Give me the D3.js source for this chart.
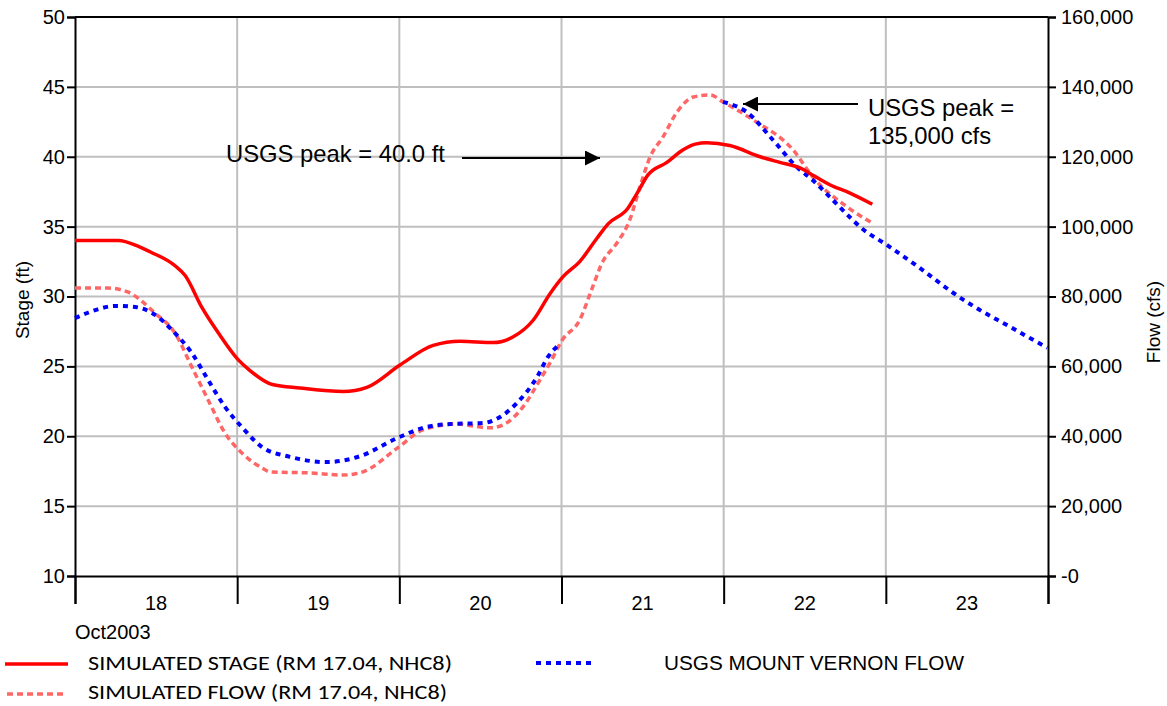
<!DOCTYPE html>
<html>
<head>
<meta charset="utf-8">
<script src="https://cdn.jsdelivr.net/npm/d3@7"></script>
<style>
  html, body { margin: 0; padding: 0; background: #fff; }
  svg { display: block; }
</style>
</head>
<body>
<svg id="chart" width="1167" height="706"></svg>
<script>
// ---------- data (hours after 18 Oct 2003 00:00) ----------
const stageHours = [0,6.4,9.3,11.1,14.8,16.3,18.8,21.2,24.1,25.9,29.2,33.3,39.7,43.2,48.1,53.0,57.0,61.9,64.8,67.8,70.3,72.2,74.7,77.3,78.9,81.8,83.2,84.8,87.6,90.0,91.8,93.5,96.9,101.4,104.3,107.3,109.5,111.7,114.7,118.0];
const stageFt    = [34.0,34.0,33.6,33.2,32.2,31.5,29.2,27.4,25.5,24.7,23.7,23.45,23.2,23.5,25.1,26.5,26.8,26.7,27.1,28.3,30.2,31.4,32.5,34.2,35.2,36.3,37.4,38.7,39.6,40.5,40.9,41.0,40.8,40.0,39.6,39.2,38.6,38.0,37.4,36.6];

const simFlowHours = [0,4.9,7.8,11.8,14.8,17.3,19.7,22.2,24.7,27.7,28.9,34.8,39.7,42.6,47.7,51.5,56.5,61.4,63.3,66.3,68.8,70.3,72.1,74.7,76.6,78.0,80.2,82.1,83.6,85.1,87.0,89.1,91.5,94.0,95.9,100.4,106.3,109.2,114.3,118.0];
const simFlowCfs   = [82400,82400,81300,75300,69500,59800,50400,40900,35200,30900,29800,29500,28900,29800,36600,41800,43500,42400,43200,48400,56100,61000,67500,73300,82700,89600,95300,101900,111300,119900,125600,132800,137100,137700,135700,130500,121900,114200,105600,101000];

// null = no observed record (gap)
const usgsHours = [0,3.0,5.9,8.9,11.4,14.8,17.3,19.7,22.2,24.7,27.7,31.8,37.3,39.2,42.2,47.7,51.5,55.5,60.4,62.9,65.4,68.4,70.0,71.5,83.0,95.9,99.4,103.3,106.8,109.2,111.7,115.1,116.2,120.2,125.0,130.0,132.9,138.4,143.9];
const usgsCfs   = [73800,76100,77300,77000,75300,69500,63800,56100,48400,42600,36900,34100,32600,32900,34300,39500,42400,43500,43800,45500,49500,57000,62700,66000,null,135700,132800,124800,117100,113300,108500,101900,99900,94700,88200,81000,77300,71300,65300];

const dayLabels   = ["18","19","20","21","22","23"];
const stageTicks  = [10,15,20,25,30,35,40,45,50];
const flowTicks   = [0,20000,40000,60000,80000,100000,120000,140000,160000];
const legendItems = ["SIMULATED STAGE (RM 17.04, NHC8)","SIMULATED FLOW (RM 17.04, NHC8)","USGS MOUNT VERNON FLOW"];

// ---------- layout ----------
const ARIAL = "'Liberation Sans', Arial, sans-serif";
const CALI = "Carlito, Lato, 'Open Sans', sans-serif";
const L = 75, R = 1048, T = 17, B = 576;
const svg = d3.select("#chart");
const base = new Date(2003, 9, 18, 0, 0);
const toDate = h => new Date(base.getTime() + h * 3600e3);

const x = d3.scaleTime().domain([base, new Date(2003, 9, 24)]).range([L, R]);
const yS = d3.scaleLinear().domain([10, 50]).range([B, T]);
const yF = d3.scaleLinear().domain([0, 160000]).range([B, T]);

const dayBounds = d3.timeDay.range(base, new Date(2003, 9, 24, 1));

const txt = (sel, size, fam) => sel.style("font-family", fam || ARIAL).style("font-size", size + "px").style("fill", "#000");

// gridlines
const grid = svg.append("g");
grid.selectAll("line.h").data(stageTicks.slice(1, -1)).join("line")
  .attr("x1", L).attr("x2", R).attr("y1", d => yS(d)).attr("y2", d => yS(d))
  .attr("stroke", "#bfbfbf").attr("stroke-width", 2);
grid.selectAll("line.v").data(dayBounds.slice(1, -1)).join("line")
  .attr("x1", d => x(d)).attr("x2", d => x(d)).attr("y1", T).attr("y2", B)
  .attr("stroke", "#bfbfbf").attr("stroke-width", 2);

// left axis
const axL = svg.append("g").attr("transform", `translate(${L},0)`)
  .call(d3.axisLeft(yS).tickValues(stageTicks).tickSize(8).tickPadding(2).tickFormat(d3.format("d")));
axL.select(".domain").attr("stroke", "#000").attr("stroke-width", 2);
axL.selectAll(".tick line").attr("stroke", "#000").attr("stroke-width", 2);
txt(axL.selectAll(".tick text"), 20);

// right axis
const axR = svg.append("g").attr("transform", `translate(${R},0)`)
  .call(d3.axisRight(yF).tickValues(flowTicks).tickSize(8).tickPadding(5)
    .tickFormat(d => d === 0 ? "-0" : d3.format(",")(d)));
axR.select(".domain").attr("stroke", "#000").attr("stroke-width", 2);
axR.selectAll(".tick line").attr("stroke", "#000").attr("stroke-width", 2);
txt(axR.selectAll(".tick text"), 20);

// top border
svg.append("line").attr("x1", L).attr("x2", R).attr("y1", T).attr("y2", T)
  .attr("stroke", "#000").attr("stroke-width", 2);

// bottom axis: day boundary ticks + centered day labels
const axB = svg.append("g").attr("transform", `translate(0,${B})`)
  .call(d3.axisBottom(x).tickValues(dayBounds).tickSize(28).tickFormat(""));
axB.select(".domain").attr("stroke", "#000").attr("stroke-width", 2);
axB.selectAll(".tick line").attr("stroke", "#000").attr("stroke-width", 2);
txt(svg.append("g").selectAll("text").data(dayLabels).join("text")
  .attr("x", (d, i) => (x(dayBounds[i]) + x(dayBounds[i + 1])) / 2)
  .attr("y", 610).attr("text-anchor", "middle")
  .text(d => d), 20);
txt(svg.append("text").attr("x", L).attr("y", 639).text("Oct2003"), 20);

// axis titles
txt(svg.append("text").attr("transform", "translate(29,300) rotate(-90)")
  .attr("text-anchor", "middle").text("Stage (ft)"), 19);
txt(svg.append("text").attr("transform", "translate(1160,322) rotate(-90)")
  .attr("text-anchor", "middle").text("Flow (cfs)"), 19);

// series
const mk = (hs, vs) => hs.map((h, i) => ({ t: toDate(h), v: vs[i] }));
const lineF = d3.line().defined(d => d.v != null).x(d => x(d.t)).y(d => yF(d.v)).curve(d3.curveMonotoneX);
const lineS = d3.line().x(d => x(d.t)).y(d => yS(d.v)).curve(d3.curveMonotoneX);

svg.append("path").datum(mk(simFlowHours, simFlowCfs)).attr("d", lineF)
  .attr("fill", "none").attr("stroke", "#ff6666").attr("stroke-width", 3.5).attr("stroke-dasharray", "6,4");
svg.append("path").datum(mk(usgsHours, usgsCfs)).attr("d", lineF)
  .attr("fill", "none").attr("stroke", "#0000ff").attr("stroke-width", 4).attr("stroke-dasharray", "5,5");
svg.append("path").datum(mk(stageHours, stageFt)).attr("d", lineS)
  .attr("fill", "none").attr("stroke", "#ff0000").attr("stroke-width", 3.5);

// annotations
svg.append("defs").append("marker").attr("id", "arr").attr("viewBox", "0 0 10 10")
  .attr("refX", 10).attr("refY", 5).attr("markerWidth", 15).attr("markerHeight", 15)
  .attr("markerUnits", "userSpaceOnUse").attr("orient", "auto")
  .append("path").attr("d", "M0,0 L10,5 L0,10 Z").attr("fill", "#000");

txt(svg.append("text").attr("x", 226).attr("y", 162).text("USGS peak = 40.0 ft"), 23.8);
svg.append("line").attr("x1", 462).attr("x2", 600).attr("y1", 158).attr("y2", 158)
  .attr("stroke", "#000").attr("stroke-width", 2).attr("marker-end", "url(#arr)");

txt(svg.append("text").attr("x", 868).attr("y", 116).text("USGS peak ="), 23.8);
txt(svg.append("text").attr("x", 868).attr("y", 144).text("135,000 cfs"), 23.8);
svg.append("line").attr("x1", 858).attr("x2", 743).attr("y1", 104).attr("y2", 104)
  .attr("stroke", "#000").attr("stroke-width", 2).attr("marker-end", "url(#arr)");

// legend
const lg = svg.append("g");
lg.append("line").attr("x1", 5).attr("x2", 68).attr("y1", 664).attr("y2", 664)
  .attr("stroke", "#ff0000").attr("stroke-width", 3.5);
txt(lg.append("text").attr("x", 88).attr("y", 670)
  .attr("textLength", 364).attr("lengthAdjust", "spacingAndGlyphs").text(legendItems[0]), 20, CALI);
lg.append("line").attr("x1", 7).attr("x2", 65).attr("y1", 694).attr("y2", 694)
  .attr("stroke", "#ff6666").attr("stroke-width", 3.5).attr("stroke-dasharray", "6,4");
txt(lg.append("text").attr("x", 88).attr("y", 699)
  .attr("textLength", 359).attr("lengthAdjust", "spacingAndGlyphs").text(legendItems[1]), 20, CALI);
lg.append("line").attr("x1", 536).attr("x2", 594).attr("y1", 663).attr("y2", 663)
  .attr("stroke", "#0000ff").attr("stroke-width", 4).attr("stroke-dasharray", "5,5");
txt(lg.append("text").attr("x", 664).attr("y", 670)
  .attr("textLength", 300).attr("lengthAdjust", "spacingAndGlyphs").text(legendItems[2]), 20.5);
</script>
</body>
</html>
